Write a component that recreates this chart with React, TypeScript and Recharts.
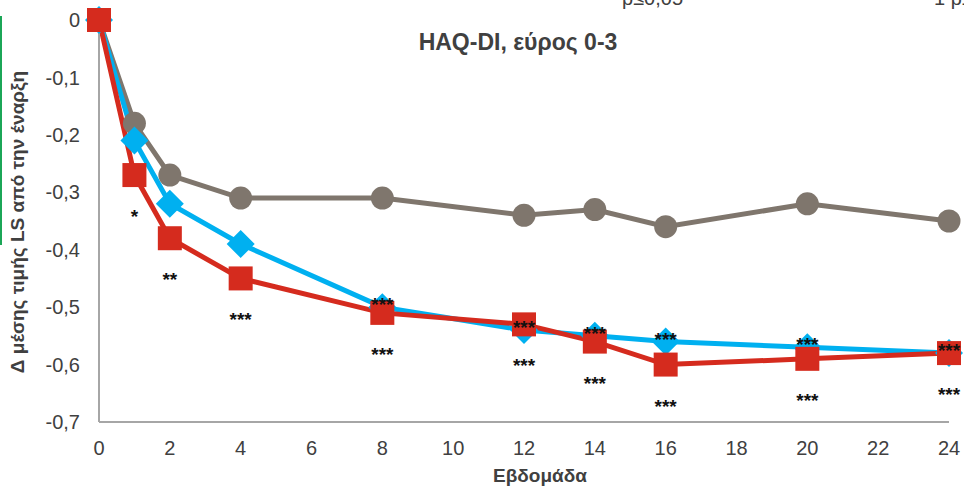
import React from "react";
import { LineChart, Line, XAxis, YAxis, LabelList } from "recharts";

// weeks on the x axis
const weeks = [0, 1, 2, 4, 8, 12, 14, 16, 20, 24];

// mean change from baseline per group
const placebo = [0, -0.18, -0.27, -0.31, -0.31, -0.34, -0.33, -0.36, -0.32, -0.35];
const doseLow = [0, -0.21, -0.32, -0.39, -0.5, -0.54, -0.55, -0.56, -0.57, -0.58];
const doseHigh = [0, -0.27, -0.38, -0.45, -0.51, -0.53, -0.56, -0.6, -0.59, -0.58];

// significance markers vs placebo
const lowStars = ["", "", "", "", "***", "***", "***", "***", "***", "***"];
const highStars = ["", "*", "**", "***", "***", "***", "***", "***", "***", "***"];

const xTicks = [0, 2, 4, 6, 8, 10, 12, 14, 16, 18, 20, 22, 24];
const yTicks = [0, -0.1, -0.2, -0.3, -0.4, -0.5, -0.6, -0.7];

const rows = weeks.map((w, i) => ({
    week: w,
    placebo: placebo[i],
    low: doseLow[i],
    high: doseHigh[i],
    lowStars: lowStars[i],
    highStars: highStars[i],
}));

const FONT = '"Liberation Sans", Arial, sans-serif';
const GREY = "#7f766d";
const CYAN = "#00b0f0";
const RED = "#d52b1e";

const fmt = (v: number) => (v === 0 ? "0" : v.toFixed(1).replace(".", ","));

const Circle = (p: any) => <circle key={p.index} cx={p.cx} cy={p.cy} r={11.5} fill={GREY} />;

const Diamond = (p: any) => (
    <path
        key={p.index}
        d={`M${p.cx},${p.cy - 14}L${p.cx + 14},${p.cy}L${p.cx},${p.cy + 14}L${p.cx - 14},${p.cy}Z`}
        fill={CYAN}
    />
);

const Square = (p: any) => <rect key={p.index} x={p.cx - 12} y={p.cy - 12} width={24} height={24} fill={RED} />;

const starLabel = (dy: number) => (p: any) =>
    p.value ? (
        <text x={p.x} y={p.y + dy} textAnchor="middle" fontFamily={FONT} fontSize={19} fontWeight="bold" fill="#111">
            {p.value}
        </text>
    ) : null;

export default function App() {
    return (
        <div style={{ width: 964, height: 489, position: "relative", overflow: "hidden", background: "#fff", fontFamily: FONT }}>
            <style>{"html,body{margin:0;padding:0;overflow:hidden}"}</style>
            <div style={{ position: "absolute", left: 0, top: 16, width: 2, height: 229, background: "#1ba657" }} />
            <svg width={964} height={20} style={{ position: "absolute", left: 0, top: 0 }}>
                <text x={622} y={5} fontFamily={FONT} fontSize={20} fill="#404040">p≤0,05</text>
                <text x={934} y={5} fontFamily={FONT} fontSize={20} fill="#404040">1 p≤0,01</text>
            </svg>
            <div style={{ position: "absolute", left: 518, top: 42, transform: "translate(-50%,-50%)", fontSize: 23, fontWeight: "bold", color: "#404040", whiteSpace: "nowrap" }}>
                HAQ-DI, εύρος 0-3
            </div>
            <div style={{ position: "absolute", left: 18, top: 222, transform: "translate(-50%,-50%) rotate(-90deg)", fontSize: 19, fontWeight: "bold", color: "#404040", whiteSpace: "nowrap" }}>
                Δ μέσης τιμής LS από την έναρξη
            </div>
            <div style={{ position: "absolute", left: 540, top: 476, transform: "translate(-50%,-50%)", fontSize: 19, fontWeight: "bold", color: "#404040", whiteSpace: "nowrap" }}>
                Εβδομάδα
            </div>
            <LineChart width={964} height={489} data={rows} margin={{ top: 20, right: 15, bottom: 0, left: 0 }} style={{ position: "absolute", left: 0, top: 0 }}>
                <XAxis
                    dataKey="week"
                    type="number"
                    domain={[0, 24]}
                    ticks={xTicks}
                    height={67}
                    tickLine={false}
                    tickMargin={13}
                    axisLine={{ stroke: "#a6a6a6", strokeWidth: 2 }}
                    tick={{ fill: "#404040", fontSize: 20, fontFamily: FONT }}
                />
                <YAxis
                    type="number"
                    domain={[-0.7, 0]}
                    ticks={yTicks}
                    width={99}
                    tickLine={false}
                    tickMargin={13}
                    tickFormatter={fmt}
                    axisLine={{ stroke: "#a6a6a6", strokeWidth: 2 }}
                    tick={{ fill: "#404040", fontSize: 20, fontFamily: FONT }}
                />
                <Line dataKey="placebo" stroke={GREY} strokeWidth={5} dot={Circle} activeDot={false} isAnimationActive={false} />
                <Line dataKey="low" stroke={CYAN} strokeWidth={5} dot={Diamond} activeDot={false} isAnimationActive={false} />
                <Line dataKey="high" stroke={RED} strokeWidth={5} dot={Square} activeDot={false} isAnimationActive={false}>
                    <LabelList dataKey="highStars" content={starLabel(48)} />
                </Line>
                {/* invisible copy of the low-dose series so its stars sit on top */}
                <Line dataKey="low" stroke="none" dot={false} activeDot={false} isAnimationActive={false}>
                    <LabelList dataKey="lowStars" content={starLabel(4)} />
                </Line>
            </LineChart>
        </div>
    );
}
